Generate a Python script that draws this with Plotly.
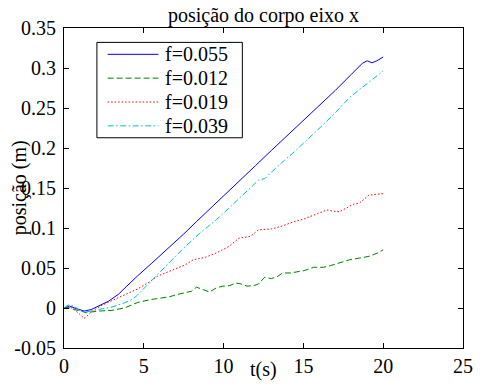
import plotly.graph_objects as go

# --- series data: body position along x versus time ---
t_f055 = [0, 0.35, 0.8, 1.27, 1.7, 2.18, 2.8, 3.4, 4.0, 4.6, 5.5, 6.5, 7.5, 8.3, 9.0,
          10.0, 11.0, 12.0, 13.0, 13.8, 15.0, 16.0, 17.0, 18.0, 18.7, 19.0, 19.3, 19.6, 20.0]
x_f055 = [0, 0.0024, -0.001, -0.0038, -0.002, 0.0024, 0.0086, 0.017, 0.029, 0.040, 0.056,
          0.074, 0.0925, 0.108, 0.121, 0.140, 0.159, 0.178, 0.197, 0.212, 0.235, 0.253,
          0.272, 0.292, 0.306, 0.309, 0.3065, 0.309, 0.3137]

t_f012 = [0, 0.3, 0.65, 1.16, 1.4, 2.18, 3.0, 3.82, 4.63, 5.45, 6.06, 6.6, 7.08, 7.69, 8.0,
          8.3, 8.71, 9.12, 9.53, 9.94, 10.4, 10.75, 11.1, 11.47, 11.9, 12.18, 12.58, 12.99,
          13.4, 13.7, 14.2, 14.6, 15.04, 15.65, 16.26, 16.7, 17.2, 17.9, 18.5, 19.1, 19.63, 20.0]
x_f012 = [0, 0.0005, -0.0018, -0.005, -0.0058, -0.0038, -0.003, 0.0003, 0.007, 0.0106,
          0.0127, 0.014, 0.0168, 0.019, 0.021, 0.026, 0.023, 0.020, 0.025, 0.0273, 0.028,
          0.0314, 0.030, 0.0273, 0.028, 0.030, 0.0385, 0.0367, 0.0397, 0.0438, 0.0438,
          0.045, 0.0467, 0.0509, 0.0509, 0.053, 0.0562, 0.0603, 0.0624, 0.0645, 0.0686, 0.0727]

t_f019 = [0, 0.35, 0.76, 1.06, 1.27, 1.78, 2.39, 3.2, 3.82, 4.63, 5.3, 5.85, 6.5, 7.08, 7.6,
          8.1, 8.8, 9.53, 10.34, 10.96, 11.67, 12.18, 13.0, 13.6, 14.42, 15.0, 15.65, 16.0,
          16.46, 16.9, 17.28, 17.7, 18.1, 18.5, 19.1, 19.5, 20.0]
x_f019 = [0, 0.0015, -0.0038, -0.010, -0.013, -0.0038, 0.0037, 0.011, 0.017, 0.024, 0.032,
          0.0397, 0.045, 0.050, 0.054, 0.0603, 0.063, 0.0686, 0.077, 0.0873, 0.0894, 0.0976,
          0.0989, 0.102, 0.108, 0.111, 0.116, 0.118, 0.1225, 0.121, 0.1205, 0.125, 0.1295,
          0.131, 0.141, 0.142, 0.143]

t_f039 = [0, 0.25, 0.65, 0.96, 1.37, 1.8, 2.18, 3.0, 3.8, 4.3, 4.6, 4.94, 5.45, 6.47, 7.49,
          8.51, 9.53, 10.34, 11.2, 12.18, 12.59, 13.0, 13.81, 14.42, 15.85, 16.9, 17.9, 19.0, 20.0]
x_f039 = [0, 0.0037, 0.0024, -0.003, -0.005, -0.003, -0.0018, 0.0012, 0.0065, 0.011, 0.016,
          0.023, 0.0335, 0.054, 0.0748, 0.0935, 0.110, 0.125, 0.141, 0.1597, 0.1618, 0.170,
          0.1845, 0.195, 0.2218, 0.242, 0.2633, 0.281, 0.2963]

series_names = ["f=0.055", "f=0.012", "f=0.019", "f=0.039"]
series_t = [t_f055, t_f012, t_f019, t_f039]
series_x = [x_f055, x_f012, x_f019, x_f039]
series_colors = ["#0000ff", "#008000", "#ff0000", "#00bfbf"]
series_dash = ["solid", "6px,3px", "1.5px,2px", "6px,2.5px,1.5px,2.5px"]

x_tickvals = [0, 5, 10, 15, 20, 25]
x_ticktext = ["0", "5", "10", "15", "20", "25"]
y_tickvals = [-0.05, 0, 0.05, 0.1, 0.15, 0.2, 0.25, 0.3, 0.35]
y_ticktext = ["-0.05", "0", "0.05", "0.1", "0.15", "0.2", "0.25", "0.3", "0.35"]

FONT = "Liberation Serif"
FS = 20

fig = go.Figure()
for name, t, x, c, d in zip(series_names, series_t, series_x, series_colors, series_dash):
    fig.add_trace(go.Scatter(x=t, y=x, mode="lines", name=name,
                             line=dict(color=c, width=1, dash=d), showlegend=False))

axis_common = dict(showline=True, linecolor="black", linewidth=1, mirror="ticks",
                   ticks="inside", ticklen=5, tickcolor="black", tickwidth=1,
                   showgrid=False, zeroline=False,
                   tickfont=dict(family=FONT, size=FS, color="black"))

fig.update_xaxes(range=[0, 25], tickvals=x_tickvals, ticktext=x_ticktext, **axis_common)
fig.update_yaxes(range=[-0.05, 0.35], tickvals=y_tickvals, ticktext=y_ticktext,
                 ticklabelstandoff=3, **axis_common)

# boxed legend drawn in paper coordinates
leg_x0, leg_x1, leg_top, leg_bot = 0.0825, 0.447, 0.955, 0.657
row_h = (leg_top - leg_bot) / len(series_names)
shapes = [dict(type="rect", xref="paper", yref="paper", x0=leg_x0, x1=leg_x1,
               y0=leg_bot, y1=leg_top, line=dict(color="black", width=1),
               fillcolor="white", layer="above")]
annotations = []
for i, (name, c, d) in enumerate(zip(series_names, series_colors, series_dash)):
    yy = leg_top - (i + 0.5) * row_h
    shapes.append(dict(type="line", xref="paper", yref="paper", x0=0.1094, x1=0.2367,
                       y0=yy, y1=yy, line=dict(color=c, width=1, dash=d), layer="above"))
    annotations.append(dict(text=name, xref="paper", yref="paper", x=0.249, y=yy,
                            xanchor="left", yanchor="middle", showarrow=False,
                            font=dict(family=FONT, size=FS, color="black")))

annotations.append(dict(text="t(s)", xref="paper", yref="paper", x=0.5, y=-0.066,
                        xanchor="center", yanchor="middle", showarrow=False,
                        font=dict(family=FONT, size=FS, color="black")))
annotations.append(dict(text="posição (m)", xref="paper", yref="paper", x=-0.112, y=0.5,
                        xanchor="center", yanchor="middle", showarrow=False, textangle=-90,
                        font=dict(family=FONT, size=FS, color="black")))

fig.update_layout(
    width=483, height=387,
    margin=dict(l=64, r=10, t=28, b=37),
    paper_bgcolor="white", plot_bgcolor="white",
    title=dict(text="posição do corpo eixo x", x=0.5, xref="paper", xanchor="center",
               y=1 - 15 / 387, yref="container", yanchor="middle",
               font=dict(family=FONT, size=FS, color="black")),
    shapes=shapes, annotations=annotations,
)

fig.write_html("out.html")
